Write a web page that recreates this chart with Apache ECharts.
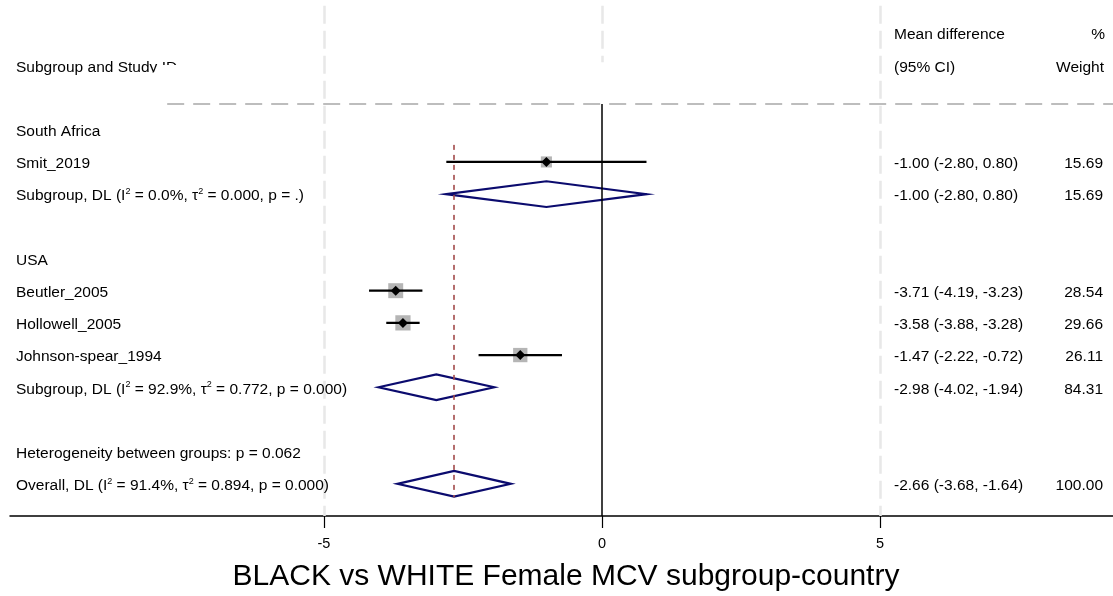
<!DOCTYPE html>
<html>
<head>
<meta charset="utf-8">
<script src="https://cdn.jsdelivr.net/npm/echarts@6/dist/echarts.min.js"></script>
<style>
  html, body { margin: 0; padding: 0; background: #ffffff; }
  #chart { width: 1113px; height: 596px; }
</style>
</head>
<body>
<div id="chart"></div>
<script>
const FONT = '"Liberation Sans", Arial, Helvetica, sans-serif';
const TEXT_SIZE = 15.5;
const TEXT_DY = 2;

// Column headers
const headerStudy = 'Subgroup and Study ID';
const headerEffect = ['Mean difference', '(95% CI)'];
const headerWeight = ['%', 'Weight'];
const headerRows = [-3, -2];

// Subgroup headings
const groupNames = ['South Africa', 'USA'];
const groupRows = [0, 4];

// Individual studies
const studyNames = ['Smit_2019', 'Beutler_2005', 'Hollowell_2005', 'Johnson-spear_1994'];
const studyRows = [1, 5, 6, 7];
const studyES = [-1.00, -3.71, -3.58, -1.47];
const studyLo = [-2.80, -4.19, -3.88, -2.22];
const studyHi = [0.80, -3.23, -3.28, -0.72];
const studyWeight = [15.69, 28.54, 29.66, 26.11];

// Pooled estimates (DerSimonian-Laird)
const pooledNames = ['Subgroup, DL', 'Subgroup, DL', 'Overall, DL'];
const pooledRows = [2, 8, 11];
const pooledI2 = ['0.0%', '92.9%', '91.4%'];
const pooledTau2 = ['0.000', '0.772', '0.894'];
const pooledP = ['.', '0.000', '0.000'];
const pooledES = [-1.00, -2.98, -2.66];
const pooledLo = [-2.80, -4.02, -3.68];
const pooledHi = [0.80, -1.94, -1.64];
const pooledWeight = [15.69, 84.31, 100.00];

// Between-group heterogeneity line
const hetText = 'Heterogeneity between groups: p = 0.062';
const hetRow = 10;

// Axis
const tickValues = [-5, 0, 5];
const xMin = -10.647;
const xMax = 9.19;
const yMin = -4;
const yMax = 12;
const axisTitle = 'BLACK vs WHITE Female MCV subgroup-country';

// Column positions (pixels)
const COL_LABEL = 16;
const COL_EST = 894;
const COL_WT = 1103;

const fmt = v => v.toFixed(2);
const ciText = (es, lo, hi) => `${fmt(es)} (${fmt(lo)}, ${fmt(hi)})`;

// Build text rows
const textRows = [];
groupNames.forEach((g, i) => textRows.push({ row: groupRows[i], left: g }));
studyNames.forEach((s, i) => textRows.push({
  row: studyRows[i], left: s,
  est: ciText(studyES[i], studyLo[i], studyHi[i]), wt: fmt(studyWeight[i])
}));
pooledNames.forEach((p, i) => textRows.push({
  row: pooledRows[i],
  rich: `{n|${p} (I}{s|2}{n| = ${pooledI2[i]}, τ}{s|2}{n| = ${pooledTau2[i]}, p = ${pooledP[i]})}`,
  est: ciText(pooledES[i], pooledLo[i], pooledHi[i]), wt: fmt(pooledWeight[i])
}));
textRows.push({ row: hetRow, left: hetText });

const baseStyle = { fill: '#000', fontFamily: FONT, fontSize: TEXT_SIZE, verticalAlign: 'middle' };
const richStyles = {
  n: { fontFamily: FONT, fontSize: TEXT_SIZE, lineHeight: 18, verticalAlign: 'middle', fill: '#000' },
  s: { fontFamily: FONT, fontSize: 9, lineHeight: 9, verticalAlign: 'top', fill: '#000' }
};

const chart = echarts.init(document.getElementById('chart'), null, { renderer: 'canvas' });

chart.setOption({
  animation: false,
  backgroundColor: '#ffffff',
  grid: { left: 10, right: 0, top: 1, bottom: 80, containLabel: false },
  xAxis: {
    type: 'value', min: xMin, max: xMax,
    axisLine: { show: true, onZero: false, lineStyle: { color: '#000', width: 1.5 } },
    axisTick: { show: true, customValues: tickValues, length: 12, lineStyle: { color: '#000', width: 1.2 } },
    axisLabel: { show: true, customValues: tickValues, margin: 20, color: '#000', fontFamily: FONT, fontSize: 14.5 },
    splitLine: { show: false }
  },
  yAxis: {
    type: 'value', min: yMin, max: yMax, inverse: true, show: false,
    splitLine: { show: false }
  },
  graphic: [{
    type: 'text', x: 566, y: 577, z: 10,
    style: {
      text: axisTitle, fill: '#000', fontFamily: FONT, fontSize: 30,
      align: 'center', verticalAlign: 'middle'
    }
  }],
  series: [
    // Header texts (partly masked, as in the original layout)
    {
      type: 'custom', coordinateSystem: 'cartesian2d', z: 1, silent: true,
      data: [[0, headerRows[0], 0], [0, headerRows[1], 1]],
      encode: { x: 0, y: 1 },
      renderItem(params, api) {
        const i = api.value(2);
        const y = api.coord([0, api.value(1)])[1] + TEXT_DY;
        const children = [
          { type: 'text', x: COL_EST, y, style: Object.assign({}, baseStyle, { text: headerEffect[i], align: 'left' }) },
          { type: 'text', x: COL_WT + 2 - i, y, style: Object.assign({}, baseStyle, { text: headerWeight[i], align: 'right' }) }
        ];
        if (i === 1) {
          children.push({ type: 'text', x: COL_LABEL, y, style: Object.assign({}, baseStyle, { text: headerStudy, align: 'left' }) });
          children.push({ type: 'rect', shape: { x: 150, y: y + 5, width: 460, height: 34 }, style: { fill: '#fff' } });
          children.push({ type: 'rect', shape: { x: 162, y: y - 2.5, width: 448, height: 40 }, style: { fill: '#fff' } });
        }
        return { type: 'group', children };
      }
    },
    // Reference lines
    {
      type: 'line', data: [], z: 3, silent: true,
      markLine: {
        silent: true, symbol: ['none', 'none'], label: { show: false }, animation: false,
        data: [
          [{ coord: [tickValues[0], -3.85], lineStyle: { color: '#e8e8e8', width: 2.5, type: [18, 7] } }, { coord: [tickValues[0], yMax] }],
          [{ coord: [tickValues[1], -3.85], lineStyle: { color: '#e8e8e8', width: 2.5, type: [18, 7] } }, { coord: [tickValues[1], -2.1] }],
          [{ coord: [tickValues[2], -3.85], lineStyle: { color: '#e8e8e8', width: 2.5, type: [18, 7] } }, { coord: [tickValues[2], yMax] }],
          [{ coord: [-7.82, -0.8], lineStyle: { color: '#bdbdbd', width: 2, type: [17, 9] } }, { coord: [xMax, -0.8] }],
          [{ coord: [0, -0.8], lineStyle: { color: '#000', width: 1.5, type: 'solid' } }, { coord: [0, yMax] }]
        ]
      }
    },
    // Study estimates: weighted square, CI line, point marker
    {
      type: 'custom', coordinateSystem: 'cartesian2d', z: 4, silent: true,
      data: studyES.map((v, i) => [v, studyRows[i], i]),
      encode: { x: 0, y: 1 },
      renderItem(params, api) {
        const i = api.value(2);
        const c = api.coord([studyES[i], studyRows[i]]);
        const lo = api.coord([studyLo[i], studyRows[i]]);
        const hi = api.coord([studyHi[i], studyRows[i]]);
        const side = 2.8 * Math.sqrt(studyWeight[i]);
        const m = 5;
        return {
          type: 'group', children: [
            { type: 'rect', shape: { x: c[0] - side / 2, y: c[1] - side / 2, width: side, height: side }, style: { fill: '#b5b5b5' } },
            { type: 'line', shape: { x1: lo[0], y1: lo[1], x2: hi[0], y2: hi[1] }, style: { stroke: '#000', lineWidth: 2.3 } },
            { type: 'polygon', shape: { points: [[c[0] - m, c[1]], [c[0], c[1] - m], [c[0] + m, c[1]], [c[0], c[1] + m]] }, style: { fill: '#000' } }
          ]
        };
      }
    },
    // Pooled diamonds
    {
      type: 'custom', coordinateSystem: 'cartesian2d', z: 4, silent: true,
      data: pooledES.map((v, i) => [v, pooledRows[i], i]),
      encode: { x: 0, y: 1 },
      renderItem(params, api) {
        const i = api.value(2);
        const r = pooledRows[i];
        const l = api.coord([pooledLo[i], r]);
        const t = api.coord([pooledES[i], r - 0.4]);
        const h = api.coord([pooledHi[i], r]);
        const b = api.coord([pooledES[i], r + 0.4]);
        return {
          type: 'polygon',
          shape: { points: [l, t, h, b] },
          style: { fill: 'none', stroke: '#0b0b6e', lineWidth: 2.2 }
        };
      }
    },
    // Overall effect line
    {
      type: 'line', data: [], z: 5, silent: true,
      markLine: {
        silent: true, symbol: ['none', 'none'], label: { show: false }, animation: false,
        data: [
          [{ coord: [pooledES[2], 0.47], lineStyle: { color: '#a24a4a', width: 1.6, type: [5, 5] } }, { coord: [pooledES[2], 11.42] }]
        ]
      }
    },
    // Row labels, estimates and weights
    {
      type: 'custom', coordinateSystem: 'cartesian2d', z: 6, silent: true,
      data: textRows.map((t, i) => [0, t.row, i]),
      encode: { x: 0, y: 1 },
      renderItem(params, api) {
        const t = textRows[api.value(2)];
        const y = api.coord([0, t.row])[1] + TEXT_DY;
        const children = [];
        if (t.rich) {
          children.push({ type: 'text', x: COL_LABEL, y, style: { text: t.rich, rich: richStyles, align: 'left', verticalAlign: 'middle' } });
        } else {
          children.push({ type: 'text', x: COL_LABEL, y, style: Object.assign({}, baseStyle, { text: t.left, align: 'left' }) });
        }
        if (t.est) {
          children.push({ type: 'text', x: COL_EST, y, style: Object.assign({}, baseStyle, { text: t.est, align: 'left' }) });
          children.push({ type: 'text', x: COL_WT, y, style: Object.assign({}, baseStyle, { text: t.wt, align: 'right' }) });
        }
        return { type: 'group', children };
      }
    }
  ]
});
</script>
</body>
</html>
